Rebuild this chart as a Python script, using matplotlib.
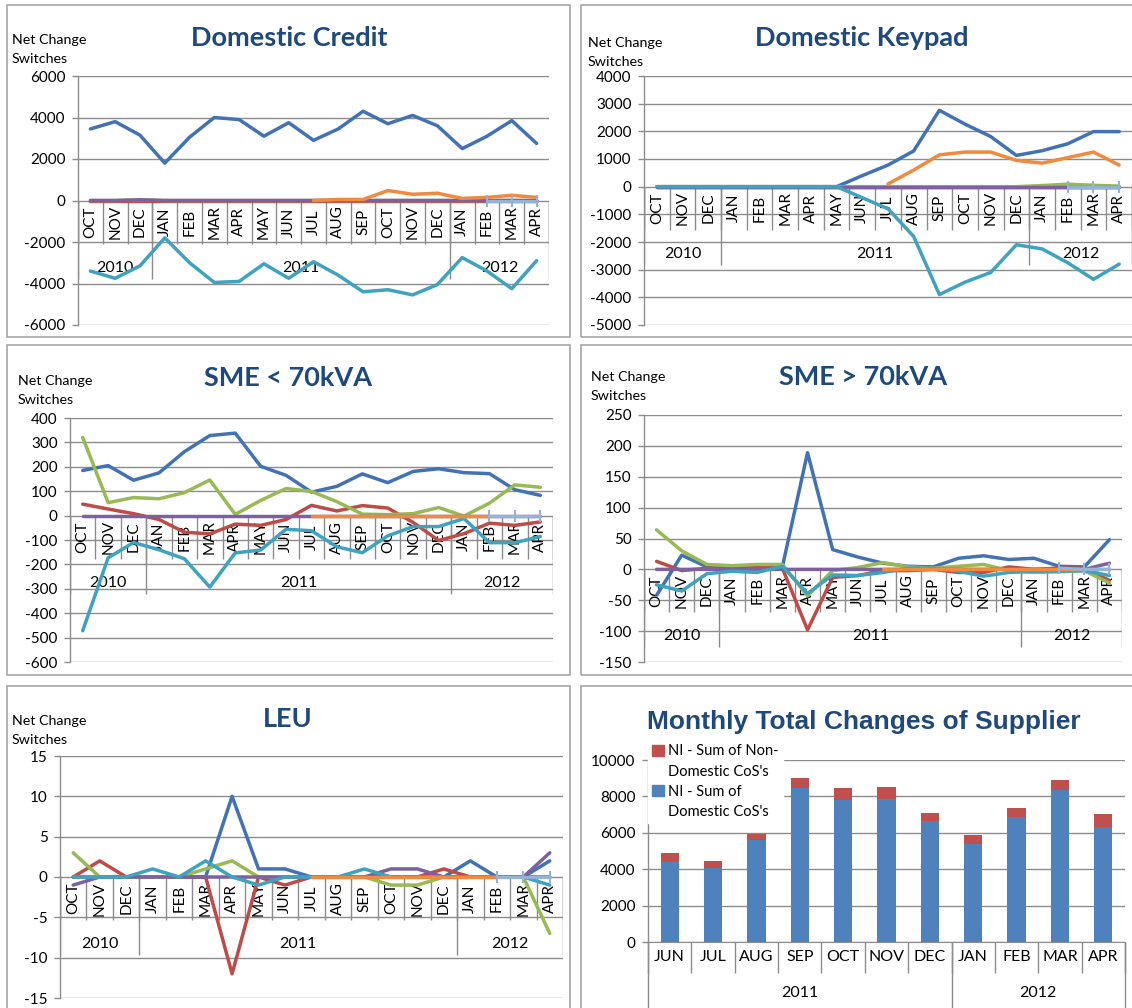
import numpy as np
import matplotlib
matplotlib.use("Agg")
import matplotlib.pyplot as plt
from matplotlib.patches import Rectangle

plt.rcParams['font.family'] = ['Lato', 'DejaVu Sans']
plt.rcParams['axes.unicode_minus'] = False

W, H = 1132, 1008
nan = np.nan

# ---------------- data ----------------
months = ['OCT', 'NOV', 'DEC', 'JAN', 'FEB', 'MAR', 'APR', 'MAY', 'JUN', 'JUL',
          'AUG', 'SEP', 'OCT', 'NOV', 'DEC', 'JAN', 'FEB', 'MAR', 'APR']
years = ['2010', '2011', '2012']
year_first = [0, 3, 15]
year_last = [2, 14, 18]

# Domestic Credit
dc_blue = [3450, 3800, 3150, 1800, 3050, 4000, 3900, 3100, 3750, 2900, 3450, 4300, 3700, 4100, 3600, 2500, 3100, 3850, 2750]
dc_red = [0, 0, 0, 0, 0, 0, 0, 0, 0, 0, 0, 0, 0, 0, 0, 0, 0, 0, 0]
dc_green = [0, 0, 40, 0, 0, 0, 0, 0, 0, 0, 0, 0, 0, 0, 0, 0, 0, 0, 0]
dc_purple = [0, 0, 30, 0, 0, 0, 0, 0, 0, 0, 0, 0, 0, 0, 0, 0, 0, 0, 0]
dc_aqua = [-3400, -3750, -3150, -1800, -3000, -3950, -3900, -3050, -3750, -2950, -3600, -4400, -4300, -4550, -4050, -2750, -3400, -4250, -2900]
dc_orange = [nan, nan, nan, nan, nan, nan, nan, nan, nan, 0, 50, 50, 480, 300, 350, 100, 150, 250, 150]
dc_lblue = [nan, nan, nan, nan, nan, nan, nan, nan, nan, nan, nan, nan, nan, nan, nan, nan, 0, 0, 0]

# Domestic Keypad
dk_blue = [0, 0, 0, 0, 0, 0, 0, 0, 400, 780, 1290, 2760, 2260, 1810, 1130, 1300, 1550, 1990, 1990]
dk_red = [0, 0, 0, 0, 0, 0, 0, 0, 0, 0, 0, 0, 0, 0, 0, 0, 0, 0, 0]
dk_green = [0, 0, 0, 0, 0, 0, 0, 0, 0, 0, 0, 0, 0, 0, 0, 40, 90, 50, 20]
dk_purple = [0, 0, 0, 0, 0, 0, 0, 0, 0, 0, 0, 0, 0, 0, 0, 0, 0, 0, 0]
dk_aqua = [0, 0, 0, 0, 0, 0, 0, 0, -400, -800, -1800, -3900, -3450, -3100, -2100, -2250, -2750, -3350, -2800]
dk_orange = [nan, nan, nan, nan, nan, nan, nan, nan, nan, 100, 600, 1150, 1250, 1250, 950, 850, 1050, 1250, 780]
dk_lblue = [nan, nan, nan, nan, nan, nan, nan, nan, nan, nan, nan, nan, nan, nan, nan, nan, 0, 0, 0]

# SME < 70kVA
sa_blue = [185, 205, 145, 175, 262, 328, 338, 202, 165, 96, 120, 171, 135, 181, 192, 176, 172, 106, 83]
sa_red = [47, 27, 8, -16, -68, -75, -35, -40, -16, 42, 19, 41, 31, -28, -102, -74, -31, -40, -26]
sa_green = [320, 53, 74, 69, 94, 146, 5, 62, 111, 99, 57, 6, 4, 8, 33, -2, 51, 126, 116]
sa_purple = [0, 0, 0, 0, 0, 0, 0, 0, 0, 0, 0, 0, 0, 0, 0, 0, 0, 0, 0]
sa_aqua = [-472, -173, -110, -140, -177, -293, -153, -141, -56, -62, -128, -152, -83, -45, -45, -12, -111, -111, -86]
sa_orange = [nan, nan, nan, nan, nan, nan, nan, nan, nan, 0, 0, 0, 0, 0, 0, 0, 0, nan, nan]
sa_lblue = [nan, nan, nan, nan, nan, nan, nan, nan, nan, nan, nan, nan, nan, nan, nan, nan, 0, 0, 0]

# SME > 70kVA
sb_blue = [-42, 23, 4, 2, 4, 4, 189, 32, 20, 10, 5, 4, 18, 22, 16, 18, 5, 4, 48]
sb_red = [13, -2, 2, 2, 4, 2, -98, -13, -10, -2, -2, 0, -5, -5, 4, 0, 2, 2, -18]
sb_green = [64, 30, 8, 6, 8, 8, -43, -2, 3, 11, 4, 2, 5, 8, -2, -5, -4, -2, -22]
sb_purple = [0, 0, 0, 0, 0, 0, 0, 0, 0, 0, 0, 0, 0, 0, 0, 0, 0, 0, 10]
sb_aqua = [-25, -35, -7, -3, -5, 5, -39, -9, -10, -5, 2, 2, -3, -11, -5, -3, -3, -2, -10]
sb_orange = [nan, nan, nan, nan, nan, nan, nan, nan, nan, 0, 0, 0, 0, 0, 0, 0, 0, 0, 0]
sb_lblue = [nan, nan, nan, nan, nan, nan, nan, nan, nan, nan, nan, nan, nan, nan, nan, nan, 2, 0, 0]

# LEU
le_blue = [0, 0, 0, 0, 0, 0, 10, 1, 1, 0, 0, 0, 0, 0, 0, 2, 0, 0, 2]
le_red = [0, 2, 0, 0, 0, 0, -12, 0, -1, 0, 0, 0, 0, 0, 1, 0, 0, 0, 0]
le_green = [3, 0, 0, 0, 0, 1, 2, 0, 0, 0, 0, 0, -1, -1, 0, 0, 0, 0, -7]
le_purple = [-1, 0, 0, 0, 0, 0, 0, 0, 0, 0, 0, 0, 1, 1, 0, 0, 0, 0, 3]
le_aqua = [0, 0, 0, 1, 0, 2, 0, -1, 0, 0, 0, 1, 0, 0, 0, 0, 0, 0, -1]
le_orange = [nan, nan, nan, nan, nan, nan, nan, nan, nan, 0, 0, 0, 0, 0, 0, 0, 0, nan, nan]
le_lblue = [nan, nan, nan, nan, nan, nan, nan, nan, nan, nan, nan, nan, nan, nan, nan, nan, 0, 0, 0]

# Monthly totals
bar_months = ['JUN', 'JUL', 'AUG', 'SEP', 'OCT', 'NOV', 'DEC', 'JAN', 'FEB', 'MAR', 'APR']
bar_years = ['2011', '2012']
bar_year_first = [0, 7]
bar_year_last = [6, 10]
domestic = [4420, 4080, 5630, 8460, 7790, 7880, 6630, 5380, 6850, 8330, 6300]
non_domestic = [450, 390, 330, 530, 670, 630, 470, 510, 520, 580, 750]

# ---------------- style ----------------
C_BLUE = '#4372B4'
C_RED = '#BE4B48'
C_GREEN = '#98B954'
C_PURPLE = '#7D60A0'
C_AQUA = '#3FA3BF'
C_ORANGE = '#F08A3E'
C_LBLUE = '#95B3D7'
TITLE_C = '#1F497D'
GRID_C = '#8C8C8C'
BORDER_C = '#A6A6A6'

fig = plt.figure(figsize=(W / 100, H / 100), dpi=100)
fig.patch.set_facecolor('white')


def frac_rect(l, t, r, b):
    return [l / W, 1 - b / H, (r - l) / W, (b - t) / H]


def border(l, t, r, b):
    fig.add_artist(Rectangle((l / W, 1 - b / H), (r - l) / W, (b - t) / H,
                             transform=fig.transFigure, fill=False,
                             edgecolor=BORDER_C, lw=1.2))


def style_axes(ax, yticks):
    for s in ['top', 'right', 'bottom']:
        ax.spines[s].set_visible(False)
    ax.spines['left'].set_color(GRID_C)
    ax.spines['left'].set_linewidth(1)
    ax.set_yticks(yticks)
    ax.set_yticklabels([str(v) for v in yticks], fontsize=11)
    ax.tick_params(axis='y', length=4, width=1, color=GRID_C, pad=5)
    ax.set_xticks([])
    for v in yticks:
        ax.axhline(v, color=GRID_C, lw=1, zorder=0.5)


def line_panel(box, axbox, title, title_xy, label_xy, yticks, series):
    border(*box)
    ax = fig.add_axes(frac_rect(*axbox))
    ymin, ymax = yticks[0], yticks[-1]
    ax.set_ylim(ymin, ymax)
    ax.set_xlim(-0.5, len(months) - 0.5)
    style_axes(ax, yticks)
    dpp = (ymax - ymin) / (axbox[3] - axbox[1])  # data units per pixel
    mbox, ylab, ybox = 43, 67, 78
    x = np.arange(len(months))
    # category separators
    ax.vlines(np.arange(len(months) + 1) - 0.5, -mbox * dpp, 0, color=GRID_C, lw=1, zorder=0.6)
    bounds = [year_first[0] - 0.5] + [l + 0.5 for l in year_last]
    ax.vlines(bounds, -ybox * dpp, 0, color=GRID_C, lw=1, zorder=0.6)
    for i, m in enumerate(months):
        ax.text(i, -mbox / 2 * dpp, m, rotation=90, ha='center', va='center',
                fontsize=11, zorder=1.5)
    for yname, f, l in zip(years, year_first, year_last):
        ax.text((f + l) / 2, -ylab * dpp, yname, ha='center', va='center',
                fontsize=11.5, zorder=1.5)
    for k, (vals, col) in enumerate(series):
        if col == C_LBLUE:
            ax.plot(x, vals, color=col, lw=2.3, marker='|', ms=9, mew=1.5,
                    zorder=3 + k, solid_capstyle='round')
        else:
            ax.plot(x, vals, color=col, lw=2.5, zorder=3 + k,
                    solid_capstyle='round', solid_joinstyle='round')
    fig.text(title_xy[0] / W, 1 - title_xy[1] / H, title, ha='center', va='center',
             fontsize=19.5, fontweight='bold', color=TITLE_C)
    fig.text(label_xy[0] / W, 1 - label_xy[1] / H, 'Net Change', ha='left',
             va='center', fontsize=10.3)
    fig.text(label_xy[0] / W, 1 - (label_xy[1] + 19) / H, 'Switches', ha='left',
             va='center', fontsize=10.3)
    return ax


line_panel((7, 5, 570, 337), (78, 76, 549, 325), 'Domestic Credit', (289, 38), (12, 40),
           [-6000, -4000, -2000, 0, 2000, 4000, 6000],
           [(dc_blue, C_BLUE), (dc_red, C_RED), (dc_green, C_GREEN), (dc_purple, C_PURPLE),
            (dc_aqua, C_AQUA), (dc_orange, C_ORANGE), (dc_lblue, C_LBLUE)])

line_panel((581, 5, 1140, 337), (644, 76, 1132, 325), 'Domestic Keypad', (862, 38), (588, 43),
           [-5000, -4000, -3000, -2000, -1000, 0, 1000, 2000, 3000, 4000],
           [(dk_blue, C_BLUE), (dk_red, C_RED), (dk_green, C_GREEN), (dk_purple, C_PURPLE),
            (dk_aqua, C_AQUA), (dk_orange, C_ORANGE), (dk_lblue, C_LBLUE)])

line_panel((7, 345, 570, 675), (70, 418, 553, 662), 'SME < 70kVA', (288, 378), (18, 381),
           [-600, -500, -400, -300, -200, -100, 0, 100, 200, 300, 400],
           [(sa_blue, C_BLUE), (sa_red, C_RED), (sa_green, C_GREEN), (sa_purple, C_PURPLE),
            (sa_aqua, C_AQUA), (sa_orange, C_ORANGE), (sa_lblue, C_LBLUE)])

line_panel((581, 345, 1140, 675), (644, 415, 1122, 662), 'SME > 70kVA', (863, 377), (591, 377),
           [-150, -100, -50, 0, 50, 100, 150, 200, 250],
           [(sb_blue, C_BLUE), (sb_red, C_RED), (sb_green, C_GREEN), (sb_purple, C_PURPLE),
            (sb_aqua, C_AQUA), (sb_orange, C_ORANGE), (sb_lblue, C_LBLUE)])

line_panel((7, 686, 570, 1020), (60, 756, 563, 998), 'LEU', (288, 719), (12, 721),
           [-15, -10, -5, 0, 5, 10, 15],
           [(le_blue, C_BLUE), (le_red, C_RED), (le_green, C_GREEN), (le_purple, C_PURPLE),
            (le_aqua, C_AQUA), (le_orange, C_ORANGE), (le_lblue, C_LBLUE)])

# ---------------- bar panel ----------------
border(581, 686, 1140, 1020)
axb = fig.add_axes(frac_rect(648, 760, 1125, 942))
bt = [0, 2000, 4000, 6000, 8000, 10000]
axb.set_ylim(0, 10000)
axb.set_xlim(-0.5, len(bar_months) - 0.5)
style_axes(axb, bt)
axb.spines['bottom'].set_visible(True)
axb.spines['bottom'].set_color(GRID_C)
xb = np.arange(len(bar_months))
b1 = axb.bar(xb, domestic, 0.42, color='#4F81BD', zorder=2)
b2 = axb.bar(xb, non_domestic, 0.42, bottom=domestic, color='#C0504D', zorder=2)
dppb = 10000 / (942 - 760)
axb.vlines(np.arange(len(bar_months) + 1) - 0.5, -31 * dppb, 0, color=GRID_C, lw=1, clip_on=False)
bb = [bar_year_first[0] - 0.5] + [l + 0.5 for l in bar_year_last]
axb.vlines(bb, -70 * dppb, 0, color=GRID_C, lw=1, clip_on=False)
for i, m in enumerate(bar_months):
    axb.text(i, -15 * dppb, m, ha='center', va='center', fontsize=11.5, clip_on=False)
for yname, f, l in zip(bar_years, bar_year_first, bar_year_last):
    axb.text((f + l) / 2, -51 * dppb, yname, ha='center', va='center', fontsize=11.5, clip_on=False)

blank = Rectangle((0, 0), 1, 1, alpha=0)
red_h = Rectangle((0, 0), 1, 1, color='#C0504D')
blue_h = Rectangle((0, 0), 1, 1, color='#4F81BD')
leg = axb.legend([red_h, blank, blue_h, blank],
                 ["NI - Sum of Non-", "Domestic CoS's", "NI - Sum of", "Domestic CoS's"],
                 loc='upper left', bbox_to_anchor=(648 / W, 1 - 740 / H),
                 bbox_transform=fig.transFigure, frameon=True, fancybox=False,
                 fontsize=10.5, handlelength=0.8, handleheight=0.8, handletextpad=0.25,
                 borderpad=0.3, labelspacing=0.42, borderaxespad=0)
leg.get_frame().set_edgecolor('white')
leg.get_frame().set_facecolor('white')
leg.get_frame().set_alpha(1)
leg.set_zorder(10)
fig.text(864 / W, 1 - 722 / H, 'Monthly Total Changes of Supplier', ha='center', va='center',
         fontsize=19, fontweight='bold', color=TITLE_C, family='Liberation Sans')

fig.savefig('out.png', dpi=100, facecolor='white')
